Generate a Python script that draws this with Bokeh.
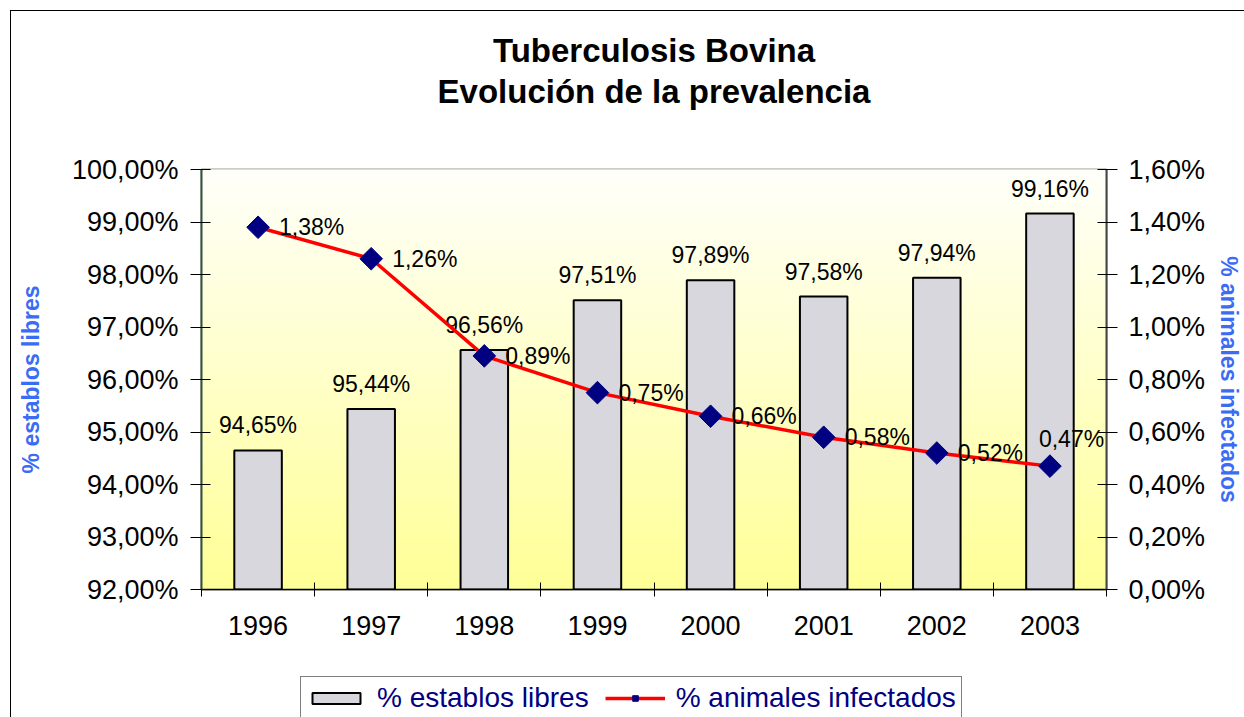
import numpy as np
from bokeh.plotting import figure
from bokeh.layouts import column
from bokeh.models import (Range1d, LinearAxis, FixedTicker, CustomJSTickFormatter,
                          ColumnDataSource, Legend, LegendItem, Title, InlineStyleSheet)
from bokeh.core.properties import value
from bokeh.embed import file_html
from bokeh.resources import INLINE

# ---- data ----
years = ["1996", "1997", "1998", "1999", "2000", "2001", "2002", "2003"]
establos_libres = [94.65, 95.44, 96.56, 97.51, 97.89, 97.58, 97.94, 99.16]
animales_infectados = [1.38, 1.26, 0.89, 0.75, 0.66, 0.58, 0.52, 0.47]
left_ticks = [92, 93, 94, 95, 96, 97, 98, 99, 100]
right_ticks = [0, 0.2, 0.4, 0.6, 0.8, 1.0, 1.2, 1.4, 1.6]
series_names = ["% establos libres", "% animales infectados"]
title_lines = ["Tuberculosis Bovina", "Evolución de la prevalencia"]

FONT = "Liberation Sans"
BAR_FILL = "#d7d7dd"
LINE_COLOR = "#ff0000"
MARK_COLOR = "#000080"

def pct(v):
    return f"{v:.2f}".replace(".", ",") + "%"

n = len(years)
xc = [i + 0.5 for i in range(n)]
src = ColumnDataSource(dict(
    x=xc, est=establos_libres, inf=animales_infectados,
    est_lbl=[pct(v) for v in establos_libres],
))
src_last = ColumnDataSource(dict(x=xc[-1:], inf=animales_infectados[-1:],
                                 inf_lbl=[pct(animales_infectados[-1])]))
src_rest = ColumnDataSource(dict(x=xc[:-1], inf=animales_infectados[:-1],
                                 inf_lbl=[pct(v) for v in animales_infectados[:-1]]))

p = figure(frame_width=905, frame_height=420, output_backend="svg", toolbar_location=None,
           x_range=Range1d(0, n), y_range=Range1d(left_ticks[0], left_ticks[-1]),
           min_border_left=201, min_border_right=134, min_border_top=169,
           min_border_bottom=80, title=None)
p.extra_y_ranges = {"right": Range1d(right_ticks[0], right_ticks[-1])}
p.xgrid.visible = False
p.ygrid.visible = False
p.background_fill_color = "white"
p.border_fill_color = "white"
p.outline_line_color = "#9a9a9a"
p.outline_line_width = 2
p.stylesheets = [InlineStyleSheet(css="""
:host { position: relative; }
:host::after { content: ""; position: absolute; left: 10px; top: 10px; right: 0px; bottom: 0px;
  border-left: 1.5px solid black; border-top: 1.5px solid black; pointer-events: none; z-index: 50; }
""")]

# gradient background (white at top -> yellow at bottom)
ns = 120
edges = np.linspace(left_ticks[0], left_ticks[-1], ns + 1)
top_c = np.array([255, 255, 250])
bot_c = np.array([255, 255, 150])
cols = []
for i in range(ns):
    t = (i + 0.5) / ns  # 0 bottom -> 1 top
    c = bot_c + (top_c - bot_c) * t
    cols.append("#%02x%02x%02x" % tuple(int(round(v)) for v in c))
p.quad(left=0, right=n, bottom=edges[:-1], top=edges[1:], fill_color=cols,
       line_color=cols, line_width=1)

# bars
p.vbar(x="x", top="est", bottom=left_ticks[0], width=0.42, source=src,
       fill_color=BAR_FILL, line_color="black", line_width=2)
p.text(x="x", y="est", text="est_lbl", source=src, text_align="center",
       text_baseline="alphabetic", y_offset=-25, text_font=value(FONT),
       text_font_size="23px", text_color="black")

# line
p.line(x="x", y="inf", source=src, y_range_name="right", line_color=LINE_COLOR,
       line_width=3.5)
p.scatter(x="x", y="inf", source=src, y_range_name="right", marker="square",
          angle=np.pi / 4, size=16, fill_color=MARK_COLOR, line_color=MARK_COLOR)
p.text(x="x", y="inf", text="inf_lbl", source=src_rest, y_range_name="right",
       text_align="left", text_baseline="middle", x_offset=21, text_font=value(FONT),
       text_font_size="23px", text_color="black")
p.text(x="x", y="inf", text="inf_lbl", source=src_last, y_range_name="right",
       text_align="left", text_baseline="middle", x_offset=-11, y_offset=-27,
       text_font=value(FONT), text_font_size="23px", text_color="black")

# x axis
xa = p.xaxis[0]
xa.ticker = FixedTicker(ticks=xc, minor_ticks=list(range(n + 1)))
xa.formatter = CustomJSTickFormatter(args=dict(years=years),
                                     code="return years[Math.floor(tick)];")
xa.major_tick_line_color = None
xa.major_tick_in = 0
xa.major_tick_out = 0
xa.minor_tick_in = 7
xa.minor_tick_out = 7
xa.minor_tick_line_color = "black"
xa.axis_line_color = "black"
xa.axis_line_width = 1.5
xa.major_label_text_font = FONT
xa.major_label_text_font_size = "27px"
xa.major_label_text_color = "black"
xa.major_label_standoff = 19

# left axis
ya = p.yaxis[0]
ya.ticker = FixedTicker(ticks=left_ticks)
ya.formatter = CustomJSTickFormatter(code="return tick.toFixed(2).replace('.', ',') + '%';")
ya.minor_tick_line_color = None
ya.major_tick_in = 9
ya.major_tick_out = 11
ya.major_tick_line_color = "black"
ya.axis_line_color = "#34533a"
ya.axis_line_width = 2
ya.major_label_text_font = FONT
ya.major_label_text_font_size = "27px"
ya.major_label_text_color = "black"
ya.major_label_standoff = 12
ya.axis_label = series_names[0]
ya.axis_label_text_font = FONT
ya.axis_label_text_font_style = "bold"
ya.axis_label_text_font_size = "23px"
ya.axis_label_text_color = "#3b6cf5"
ya.axis_label_standoff = 25

# right axis
ra = LinearAxis(y_range_name="right", ticker=FixedTicker(ticks=right_ticks),
                formatter=CustomJSTickFormatter(code="return tick.toFixed(2).replace('.', ',') + '%';"))
ra.minor_tick_line_color = None
ra.major_tick_in = 9
ra.major_tick_out = 11
ra.major_tick_line_color = "black"
ra.axis_line_color = "#444444"
ra.axis_line_width = 2
ra.major_label_text_font = FONT
ra.major_label_text_font_size = "27px"
ra.major_label_text_color = "black"
ra.major_label_standoff = 11
ra.axis_label = series_names[1]
ra.axis_label_text_font = FONT
ra.axis_label_text_font_style = "bold"
ra.axis_label_text_font_size = "23px"
ra.axis_label_text_color = "#3b6cf5"
ra.axis_label_standoff = 8
p.add_layout(ra, "right")

# titles: spacer nearest the frame, then line 2, then line 1
p.add_layout(Title(text=" ", text_font_size="1px", standoff=56), "above")
p.add_layout(Title(text=title_lines[1], align="center", text_font=FONT,
                   text_font_style="bold", text_font_size="33px", text_color="black",
                   standoff=2), "above")
p.add_layout(Title(text=title_lines[0], align="center", text_font=FONT,
                   text_font_style="bold", text_font_size="33px", text_color="black",
                   standoff=2), "above")

# legend strip (separate small figure below the chart; frames align with the chart)
lf = figure(width=1240, height=48, output_backend="svg", toolbar_location=None,
            x_axis_location=None, y_axis_location=None, min_border=0,
            x_range=Range1d(0, 1), y_range=Range1d(0, 1), title=None)
lf.grid.visible = False
lf.outline_line_color = None
lf.background_fill_color = "white"
lf.border_fill_color = "white"
lf.stylesheets = [InlineStyleSheet(css="""
:host { position: relative; }
:host::after { content: ""; position: absolute; left: 10px; top: 0px; right: 0px; bottom: 0px;
  border-left: 1.5px solid black; pointer-events: none; z-index: 50; }
""")]
proxy = ColumnDataSource(dict(x=[np.nan], y=[np.nan]))
lb = lf.vbar(x="x", top="y", width=0.1, source=proxy, fill_color=BAR_FILL,
             line_color="black", line_width=2)
ll = lf.line(x="x", y="y", source=proxy, line_color=LINE_COLOR, line_width=3.5)
lm = lf.scatter(x="x", y="y", source=proxy, marker="square", angle=np.pi / 4, size=14,
                fill_color=MARK_COLOR, line_color=MARK_COLOR)
legend = Legend(items=[LegendItem(label=series_names[0], renderers=[lb]),
                       LegendItem(label=series_names[1], renderers=[ll, lm])],
                orientation="horizontal", location=(99, -3),
                label_text_font=FONT, label_text_font_size="28px",
                label_text_color="#000080", glyph_width=60, glyph_height=14,
                label_standoff=11, spacing=16, padding=5, margin=0,
                border_line_color="black", border_line_width=1.5,
                background_fill_color="white", background_fill_alpha=1.0)
lf.add_layout(legend)

layout = column(p, lf, spacing=0)
open("out.html", "w").write(file_html(layout, INLINE))
